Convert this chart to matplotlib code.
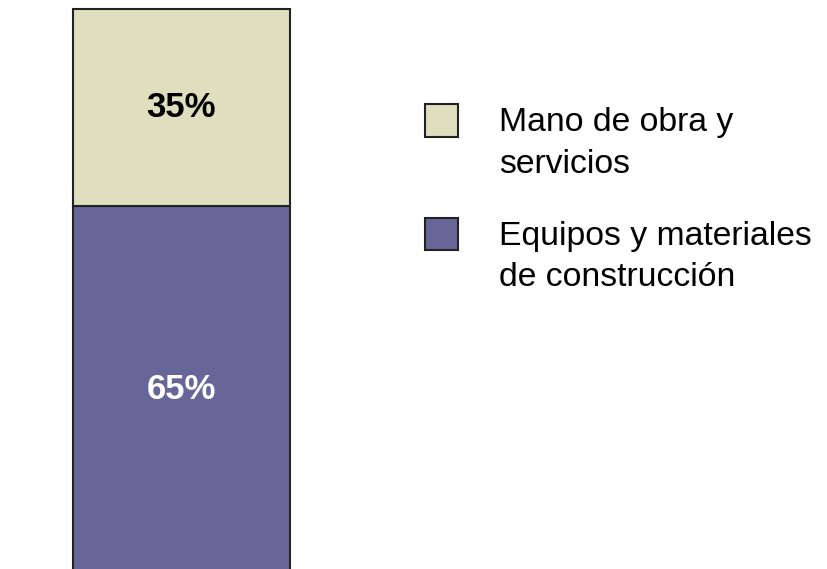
import matplotlib.pyplot as plt

plt.rcParams['font.family'] = ['Liberation Sans', 'DejaVu Sans']

# datos
categorias = ["Equipos y materiales\nde construcción", "Mano de obra y\nservicios"]
valores = [65, 35]
colores = ["#666699", "#DFDFBF"]
etiquetas = ["65%", "35%"]
color_texto = ["white", "black"]

fig = plt.figure(figsize=(8.27, 5.69), dpi=100)
ax = fig.add_axes([0, 0, 1, 1])

barras = []
base = 0
for v, c, et, ct, cat in zip(valores, colores, etiquetas, color_texto, categorias):
    b = ax.bar(0, v, width=1, bottom=base, color=c, edgecolor="#222222",
               linewidth=1.5, label=cat)
    barras.append(b)
    ax.text(0, base + v / 2, et, ha='center', va='center', fontsize=25,
            fontweight='bold', color=ct)
    base += v

ax.set_xlim(-0.836, 2.975)
ax.set_ylim(0.53, 101.6)
ax.axis('off')

# leyenda: primero la serie de arriba
leg = ax.legend([barras[1], barras[0]], [categorias[1], categorias[0]],
                loc='upper left', bbox_to_anchor=(0.497, 0.835),
                frameon=False, fontsize=24.3, handlelength=1.0,
                handleheight=1.1, handletextpad=1.2, labelspacing=1.2,
                borderaxespad=0)
for t in leg.get_texts():
    t.set_linespacing(1.45)
# el cuadro va a la altura de la primera linea
for h in leg.legend_handles:
    h.set_y(h.get_y() + 17)

fig.savefig("out.png", dpi=100)
